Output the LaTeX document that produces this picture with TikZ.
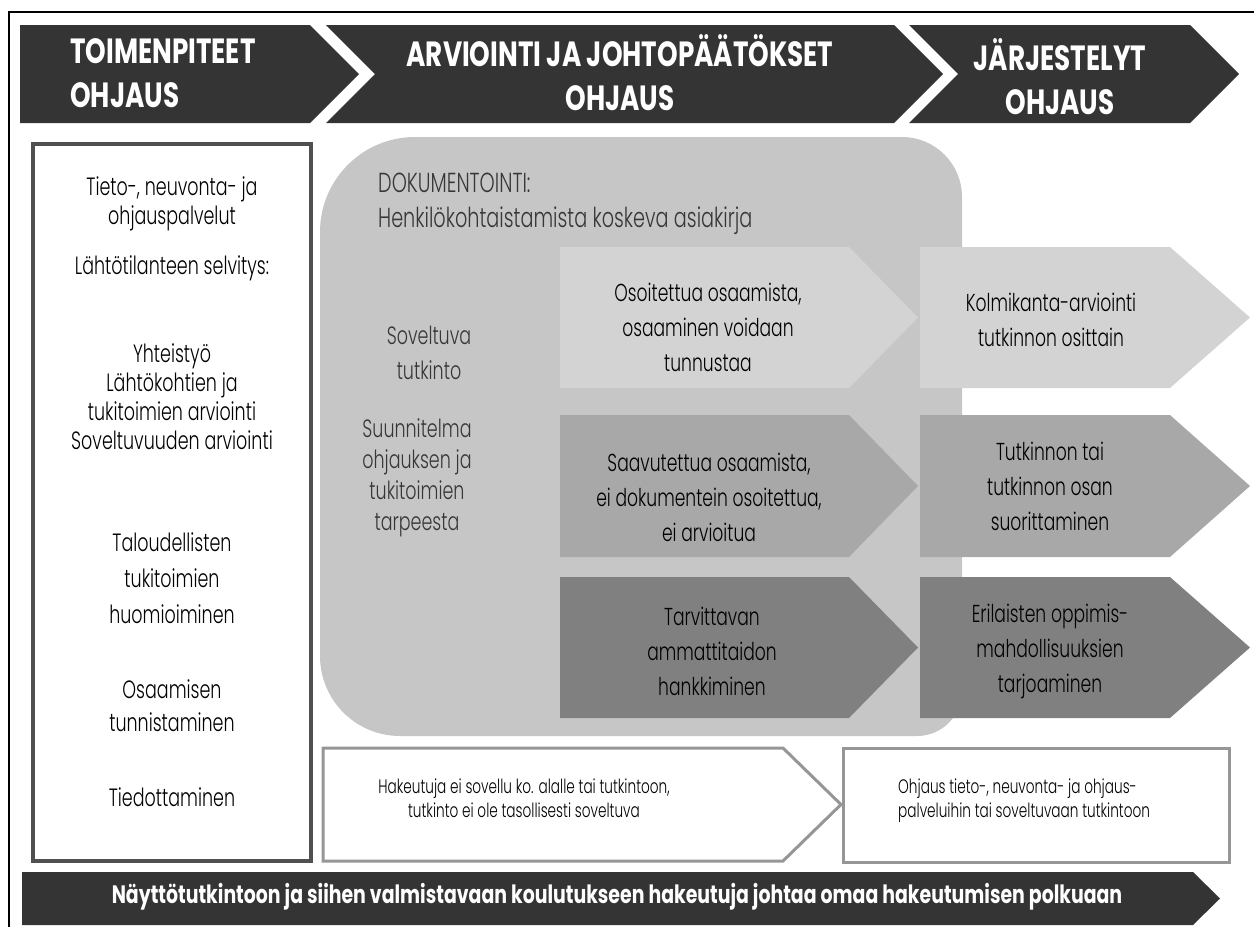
\documentclass[tikz,border=0pt]{standalone}
\usepackage{fontspec}
\setmainfont{Poppins}[UprightFont={* Light},FakeStretch=0.70]
\newfontfamily\headfont{Poppins}[FakeStretch=0.75]
\definecolor{headgray}{RGB}{52,52,52}
\definecolor{regiongray}{RGB}{198,198,198}
\definecolor{rowone}{RGB}{211,211,211}
\definecolor{rowtwo}{RGB}{168,168,168}
\definecolor{rowthree}{RGB}{128,128,128}
\definecolor{framegray}{RGB}{80,80,80}
\definecolor{boxgray}{RGB}{150,150,150}
\definecolor{dokgray}{RGB}{55,55,55}

\begin{document}
\begin{tikzpicture}[x=1pt,y=-1pt,
  headtext/.style={text=white,inner sep=0pt,font=\headfont\bfseries\fontsize{35}{44}\selectfont},
  foottext/.style={text=white,inner sep=0pt,font=\headfont\bfseries\fontsize{25.2}{28}\selectfont},
  listtext/.style={align=center,inner sep=0pt,font=\fontsize{25}{29}\selectfont},
  steptext/.style={align=center,inner sep=0pt,font=\fontsize{24.5}{35}\selectfont},
  doktext/.style={text=dokgray,inner sep=0pt,font=\fontsize{27.5}{31}\selectfont},
  smalltext/.style={inner sep=0pt,font=\fontsize{19.5}{24}\selectfont}]
\useasboundingbox (0,0) rectangle (1254,927);%
\draw[line width=2.5pt] (9,927) -- (9,12) -- (1254,12);%
% header
\fill[headgray] (20,25) -- (310,25) -- (359,74) -- (310,123) -- (20,123) -- cycle;%
\fill[headgray] (326,25) -- (894,25) -- (943,74) -- (894,123) -- (326,123) -- (375,74) -- cycle;%
\fill[headgray] (909,25) -- (1190,25) -- (1239,74) -- (1190,123) -- (909,123) -- (958,74) -- cycle;%
\node[headtext,anchor=west,align=left] (hdToimet) at (70,73) {TOIMENPITEET\\OHJAUS};%
\node[headtext,align=center] (hdArviointi) at (620,73) {ARVIOINTI JA JOHTOPÄÄTÖKSET\\OHJAUS};%
\node[headtext,align=center] (hdJarjestelyt) at (1060,77) {JÄRJESTELYT\\OHJAUS};%
% left column
\draw[framegray,line width=4pt] (33,144) rectangle (311,861);%
\node[listtext] (lbTieto) at (172,204) {Tieto-, neuvonta- ja\\ohjauspalvelut};%
\node[listtext] (lbLahto) at (172,268) {Lähtötilanteen selvitys:};%
\node[listtext] (lbYhteis) at (172,397) {Yhteistyö\\Lähtökohtien ja\\tukitoimien arviointi\\Soveltuvuuden arviointi};%
\node[listtext,font=\fontsize{25}{36}\selectfont] (lbTalous) at (172,578) {Taloudellisten\\tukitoimien\\huomioiminen};%
\node[listtext,font=\fontsize{25}{33}\selectfont] (lbOsaam) at (172,706) {Osaamisen\\tunnistaminen};%
\node[listtext] (lbTiedot) at (172,797) {Tiedottaminen};%
% documentation area
\fill[regiongray] (320,232) arc[start angle=180,end angle=270,radius=95] -- (902,137)
  arc[start angle=270,end angle=360,radius=60] -- (962,691)
  arc[start angle=0,end angle=90,radius=45] -- (400,736)
  arc[start angle=90,end angle=180,radius=80] -- cycle;%
\node[doktext,anchor=west] (dokTitle) at (378,183) {DOKUMENTOINTI:};%
\node[doktext,anchor=west] (dokAsiakirja) at (378,221) {Henkilökohtaistamista koskeva asiakirja};%
\node[doktext,align=center,font=\fontsize{25}{35}\selectfont] (dokSovelt) at (429,353) {Soveltuva\\tutkinto};%
\node[doktext,align=center,font=\fontsize{25}{31}\selectfont] (dokSuunn) at (417,478) {Suunnitelma\\ohjauksen ja\\tukitoimien\\tarpeesta};%
% steps
\fill[rowone] (560,247) -- (849,247) -- (918,317.5) -- (849,388) -- (560,388) -- cycle;%
\fill[rowone] (920,247) -- (1170,247) -- (1250,317.5) -- (1170,388) -- (920,388) -- cycle;%
\fill[rowtwo] (560,415) -- (849,415) -- (918,486) -- (849,557) -- (560,557) -- cycle;%
\fill[rowtwo] (920,415) -- (1170,415) -- (1250,486) -- (1170,557) -- (920,557) -- cycle;%
\fill[rowthree] (560,577) -- (849,577) -- (918,647.5) -- (849,718) -- (560,718) -- cycle;%
\fill[rowthree] (920,577) -- (1170,577) -- (1250,647.5) -- (1170,718) -- (920,718) -- cycle;%
\node[steptext] (stOsoit) at (708,327) {Osoitettua osaamista,\\osaaminen voidaan\\tunnustaa};%
\node[steptext] (stKolmik) at (1051,320) {Kolmikanta-arviointi\\tutkinnon osittain};%
\node[steptext] (stSaavut) at (709,497) {Saavutettua osaamista,\\ei dokumentein osoitettua,\\ei arvioitua};%
\node[steptext] (stTutk) at (1050,486) {Tutkinnon tai\\tutkinnon osan\\suorittaminen};%
\node[steptext] (stTarv) at (712,651) {Tarvittavan\\ammattitaidon\\hankkiminen};%
\node[steptext] (stEril) at (1050,651) {Erilaisten oppimis-\\mahdollisuuksien\\tarjoaminen};%
% bottom row
\draw[boxgray,line width=3pt,fill=white] (323,748) -- (783,748) -- (841,804.5) -- (783,861) -- (323,861) -- cycle;%
\draw[boxgray,line width=3pt] (843,748) rectangle (1229,862);%
\node[smalltext,align=center] (botHakeutuja) at (524,798) {Hakeutuja ei sovellu ko. alalle tai tutkintoon,\\tutkinto ei ole tasollisesti soveltuva};%
\node[smalltext,align=left,anchor=west] (botOhjaus) at (898,801) {Ohjaus tieto-, neuvonta- ja ohjaus-\\palveluihin tai soveltuvaan tutkintoon};%
\fill[headgray] (22,872) -- (1193,872) -- (1220,898.5) -- (1193,925) -- (22,925) -- cycle;%
\node[foottext] (footPolku) at (617,897) {Näyttötutkintoon ja siihen valmistavaan koulutukseen hakeutuja johtaa omaa hakeutumisen polkuaan};%
\end{tikzpicture}
\end{document}
